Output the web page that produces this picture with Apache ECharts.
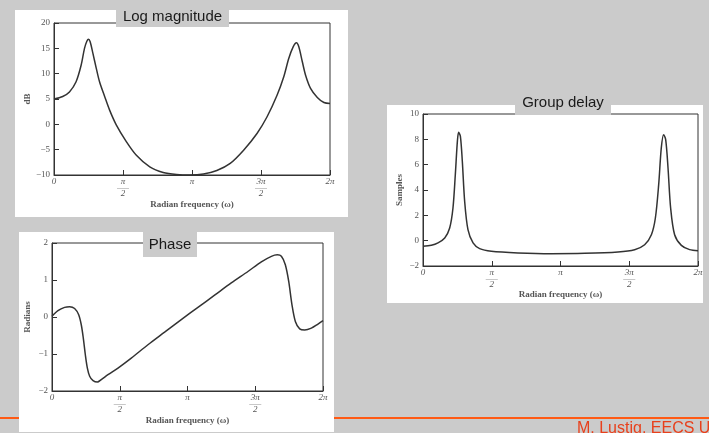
<!DOCTYPE html>
<html>
<head>
<meta charset="utf-8">
<script src="https://cdn.jsdelivr.net/npm/echarts@6/dist/echarts.min.js"></script>
<style>
  html, body { margin: 0; padding: 0; background: #cbcbcb; }
  #chart { width: 709px; height: 433px; }
</style>
</head>
<body>
<div id="chart"></div>
<script>
// frequency in units of pi (0..2)
const xTicks = [0, 0.5, 1, 1.5, 2];
const xTickLabels = ['0', 'π/2', 'π', '3π/2', '2π'];

// log magnitude (dB)
const magX = [0, 0.063, 0.112, 0.160, 0.197, 0.221, 0.238, 0.250, 0.262, 0.282, 0.306, 0.330, 0.367, 0.403, 0.451,
  0.524, 0.597, 0.694, 0.791, 0.888, 0.985, 1.083, 1.180, 1.277, 1.374, 1.471, 1.544, 1.617, 1.665, 1.701,
  1.733, 1.757, 1.774, 1.799, 1.823, 1.859, 1.908, 1.956, 2];
const magDb = [5.0, 5.5, 6.4, 8.4, 11.7, 15.0, 16.4, 16.8, 16.3, 14.0, 11.1, 8.4, 5.5, 2.8, -0.1,
  -3.4, -6.1, -8.4, -9.5, -9.9, -10.0, -9.8, -9.1, -7.7, -5.1, -1.8, 1.5, 5.8, 9.4, 13.0,
  15.3, 16.1, 15.3, 12.4, 9.7, 7.1, 5.3, 4.3, 4.1];

// phase (radians)
const phaseX = [0, 0.044, 0.093, 0.130, 0.167, 0.197, 0.216, 0.231, 0.246, 0.261, 0.278, 0.303, 0.335, 0.364,
  0.413, 0.487, 0.585, 0.708, 0.831, 0.954, 1.077, 1.200, 1.323, 1.446, 1.545, 1.619, 1.663, 1.693, 1.722,
  1.747, 1.771, 1.796, 1.828, 1.865, 1.914, 1.963, 2];
const phaseRad = [0.02, 0.17, 0.26, 0.28, 0.23, 0.06, -0.21, -0.57, -1.02, -1.38, -1.60, -1.72, -1.76, -1.69,
  -1.56, -1.38, -1.11, -0.75, -0.41, -0.07, 0.26, 0.59, 0.92, 1.23, 1.49, 1.64, 1.68, 1.64, 1.41,
  0.96, 0.33, -0.12, -0.32, -0.35, -0.30, -0.19, -0.10];

// group delay (samples)
const delayX = [0, 0.061, 0.109, 0.158, 0.194, 0.218, 0.235, 0.250, 0.259, 0.272, 0.286, 0.303, 0.327, 0.364,
  0.412, 0.497, 0.691, 0.933, 1.176, 1.418, 1.539, 1.612, 1.661, 1.690, 1.714, 1.733, 1.750, 1.765, 1.782,
  1.801, 1.830, 1.879, 1.939, 2];
const delaySamples = [-0.45, -0.37, -0.18, 0.21, 1.0, 2.58, 5.2, 7.84, 8.55, 8.24, 6.26, 3.1, 0.87, -0.18,
  -0.63, -0.84, -0.97, -1.03, -1.0, -0.89, -0.71, -0.32, 0.47, 1.79, 4.42, 7.32, 8.37, 7.97, 5.74,
  2.58, 0.47, -0.37, -0.71, -0.79];

const zip = (xs, ys) => xs.map((x, i) => [x, ys[i]]);

const serif = '"Liberation Serif", "DejaVu Serif", serif';
const sans = '"Liberation Sans", Arial, sans-serif';
const inkColor = '#333';
const labelColor = '#555';

const xLabelFormatter = (v) => {
  const i = xTicks.indexOf(Math.round(v * 10) / 10);
  if (i < 0) return '';
  const s = xTickLabels[i];
  if (s.indexOf('/') > -1) {
    const parts = s.split('/');
    return '{n|' + parts[0] + '}\n{bar|——}\n{n|' + parts[1] + '}';
  }
  return '{n|' + s + '}';
};

const makeXAxis = (gridIndex, nameGap) => ({
  type: 'value',
  gridIndex: gridIndex,
  min: 0, max: 2, interval: 0.5,
  name: 'Radian frequency (ω)',
  nameLocation: 'middle',
  nameGap: nameGap,
  nameTextStyle: { fontFamily: serif, fontWeight: 'bold', fontSize: 9, color: labelColor },
  axisLine: { show: true, onZero: false, lineStyle: { color: inkColor, width: 1 } },
  axisTick: { show: true, inside: true, length: 5, lineStyle: { color: inkColor } },
  splitLine: { show: false },
  axisLabel: {
    margin: 3,
    color: labelColor,
    formatter: xLabelFormatter,
    rich: {
      n: { fontFamily: serif, fontStyle: 'italic', fontSize: 9, lineHeight: 8, color: labelColor, align: 'center' },
      bar: { fontFamily: serif, fontSize: 6, lineHeight: 4, color: labelColor, align: 'center' }
    }
  }
});

const makeYAxis = (gridIndex, min, max, interval, name, nameGap) => ({
  type: 'value',
  gridIndex: gridIndex,
  min: min, max: max, interval: interval,
  name: name,
  nameLocation: 'middle',
  nameGap: nameGap,
  nameRotate: 90,
  nameTextStyle: { fontFamily: serif, fontWeight: 'bold', fontSize: 9, color: labelColor },
  axisLine: { show: true, onZero: false, lineStyle: { color: inkColor, width: 1 } },
  axisTick: { show: true, inside: true, length: 5, lineStyle: { color: inkColor } },
  splitLine: { show: false },
  axisLabel: {
    margin: 4,
    fontFamily: serif,
    fontSize: 9,
    color: labelColor,
    formatter: (v) => (v < 0 ? '−' + Math.abs(v) : String(v))
  }
});

const lineSeries = (idx, data) => ({
  type: 'line',
  xAxisIndex: idx,
  yAxisIndex: idx,
  data: data,
  smooth: 0.3,
  showSymbol: false,
  silent: true,
  lineStyle: { color: inkColor, width: 1.5 }
});

const frame = { show: true, borderColor: inkColor, borderWidth: 1, backgroundColor: 'transparent' };

const option = {
  backgroundColor: '#cbcbcb',
  animation: false,
  graphic: [
    // white panels
    { type: 'rect', shape: { x: 15, y: 10, width: 333, height: 207 }, style: { fill: '#ffffff' }, z: -10 },
    { type: 'rect', shape: { x: 19, y: 232, width: 315, height: 200 }, style: { fill: '#ffffff' }, z: -10 },
    { type: 'rect', shape: { x: 387, y: 105, width: 316, height: 198 }, style: { fill: '#ffffff' }, z: -10 },
    // title boxes
    { type: 'rect', shape: { x: 116, y: 7, width: 113, height: 20 }, style: { fill: '#cbcbcb' }, z: 10 },
    { type: 'text', x: 172.5, y: 17, z: 11, style: { text: 'Log magnitude', font: '15px ' + sans, fill: '#1a1a1a', align: 'center', verticalAlign: 'middle' } },
    { type: 'rect', shape: { x: 143, y: 232, width: 54, height: 25 }, style: { fill: '#cbcbcb' }, z: 10 },
    { type: 'text', x: 170, y: 245, z: 11, style: { text: 'Phase', font: '15px ' + sans, fill: '#1a1a1a', align: 'center', verticalAlign: 'middle' } },
    { type: 'rect', shape: { x: 515, y: 91, width: 96, height: 24 }, style: { fill: '#cbcbcb' }, z: 10 },
    { type: 'text', x: 563, y: 103, z: 11, style: { text: 'Group delay', font: '15px ' + sans, fill: '#1a1a1a', align: 'center', verticalAlign: 'middle' } },
    // footer rule and credit
    { type: 'rect', shape: { x: 0, y: 417, width: 709, height: 2 }, style: { fill: '#ff5a14' }, z: -20 },
    { type: 'text', x: 577, y: 421, z: 11, style: { text: 'M. Lustig, EECS UC Berkeley', font: '16px ' + sans, fill: '#e8401c', align: 'left', verticalAlign: 'top' } }
  ],
  grid: [
    Object.assign({ left: 54, top: 23, width: 276, height: 152 }, frame),
    Object.assign({ left: 52, top: 243, width: 271, height: 148 }, frame),
    Object.assign({ left: 423, top: 114, width: 275, height: 152 }, frame)
  ],
  xAxis: [makeXAxis(0, 25), makeXAxis(1, 25), makeXAxis(2, 23)],
  yAxis: [
    makeYAxis(0, -10, 20, 5, 'dB', 20),
    makeYAxis(1, -2, 2, 1, 'Radians', 20),
    makeYAxis(2, -2, 10, 2, 'Samples', 19)
  ],
  series: [
    lineSeries(0, zip(magX, magDb)),
    lineSeries(1, zip(phaseX, phaseRad)),
    lineSeries(2, zip(delayX, delaySamples))
  ]
};

const chart = echarts.init(document.getElementById('chart'));
chart.setOption(option);
</script>
</body>
</html>
